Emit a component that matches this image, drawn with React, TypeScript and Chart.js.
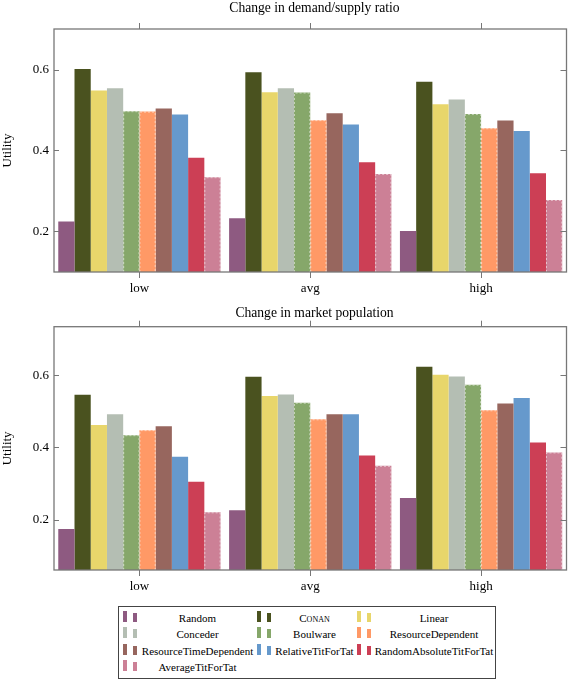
import React, { useEffect, useRef } from 'react';
import { Chart, registerables } from 'chart.js';

Chart.register(...registerables);

// ---------- data ----------
const categories = ['low', 'avg', 'high'];
const seriesNames = [
  'Random', 'Conan', 'Linear', 'Conceder', 'Boulware', 'ResourceDependent',
  'ResourceTimeDependent', 'RelativeTitForTat', 'RandomAbsoluteTitForTat', 'AverageTitForTat',
];
const seriesColors = [
  '#8e5a81', '#4a521f', '#e8d66b', '#b4beb3', '#86a76a', '#ff9966',
  '#97665e', '#6699cc', '#cc3f55', '#cc8096',
];
const dashedSeries = [false, false, false, false, true, true, false, false, false, true];
const yTicks = [0.2, 0.4, 0.6];

const ratioTitle = 'Change in demand/supply ratio';
const ratioRange = [0.1, 0.7];
const ratioRandom = [0.225, 0.233, 0.201];
const ratioConan = [0.601, 0.593, 0.570];
const ratioLinear = [0.548, 0.544, 0.514];
const ratioConceder = [0.554, 0.554, 0.526];
const ratioBoulware = [0.497, 0.543, 0.490];
const ratioResourceDependent = [0.496, 0.475, 0.455];
const ratioResourceTimeDependent = [0.504, 0.492, 0.474];
const ratioRelativeTFT = [0.489, 0.464, 0.448];
const ratioRandomAbsoluteTFT = [0.382, 0.371, 0.344];
const ratioAverageTFT = [0.334, 0.342, 0.278];

const popTitle = 'Change in market population';
const popRange = [0.06, 0.735];
const popRandom = [0.174, 0.226, 0.260];
const popConan = [0.546, 0.596, 0.624];
const popLinear = [0.462, 0.543, 0.602];
const popConceder = [0.492, 0.547, 0.597];
const popBoulware = [0.434, 0.524, 0.574];
const popResourceDependent = [0.448, 0.478, 0.503];
const popResourceTimeDependent = [0.459, 0.492, 0.522];
const popRelativeTFT = [0.374, 0.492, 0.537];
const popRandomAbsoluteTFT = [0.305, 0.378, 0.414];
const popAverageTFT = [0.220, 0.349, 0.386];

const ratioValues = [
  ratioRandom, ratioConan, ratioLinear, ratioConceder, ratioBoulware, ratioResourceDependent,
  ratioResourceTimeDependent, ratioRelativeTFT, ratioRandomAbsoluteTFT, ratioAverageTFT,
];
const popValues = [
  popRandom, popConan, popLinear, popConceder, popBoulware, popResourceDependent,
  popResourceTimeDependent, popRelativeTFT, popRandomAbsoluteTFT, popAverageTFT,
];

const SERIF = '"Liberation Serif", "DejaVu Serif", serif';

// ---------- plugins ----------
const framePlugin = {
  id: 'frame',
  afterDatasetsDraw(chart: any) {
    const { ctx, chartArea, scales } = chart;
    const { left, right, top, bottom } = chartArea;
    ctx.save();
    // dashed outlines
    chart.data.datasets.forEach((_ds: any, i: number) => {
      if (!dashedSeries[i]) return;
      const meta = chart.getDatasetMeta(i);
      ctx.save();
      ctx.beginPath();
      ctx.rect(left, top, right - left, bottom - top);
      ctx.clip();
      ctx.strokeStyle = 'rgba(255,255,255,0.5)';
      ctx.lineWidth = 1;
      ctx.setLineDash([2, 2]);
      meta.data.forEach((bar: any) => {
        const p = bar.getProps(['x', 'y', 'base', 'width'], true);
        const x0 = p.x - p.width / 2 + 0.5;
        const x1 = p.x + p.width / 2 - 0.5;
        ctx.beginPath();
        ctx.moveTo(x0, bottom);
        ctx.lineTo(x0, p.y + 0.5);
        ctx.lineTo(x1, p.y + 0.5);
        ctx.lineTo(x1, bottom);
        ctx.stroke();
      });
      ctx.restore();
    });
    ctx.strokeStyle = '#777777';
    ctx.lineWidth = 1.3;
    ctx.setLineDash([]);
    ctx.strokeRect(left, top, right - left, bottom - top);
    ctx.lineWidth = 1;
    const yScale = scales.y;
    yScale.ticks.forEach((t: any) => {
      const py = Math.round(yScale.getPixelForValue(t.value)) + 0.5;
      ctx.beginPath();
      ctx.moveTo(left, py);
      ctx.lineTo(left + 5, py);
      ctx.moveTo(right - 6, py);
      ctx.lineTo(right, py);
      ctx.stroke();
    });
    const xScale = scales.x;
    xScale.ticks.forEach((_t: any, i: number) => {
      const px = Math.round(xScale.getPixelForTick(i)) + 0.5;
      ctx.beginPath();
      ctx.moveTo(px, top - 6);
      ctx.lineTo(px, top);
      ctx.moveTo(px, bottom);
      ctx.lineTo(px, bottom + 6);
      ctx.stroke();
    });
    ctx.restore();
  },
};

type PanelProps = {
  title: string;
  values: number[][];
  range: number[];
  top: number;
  height: number;
  plotTop: number;
  titleTop: number;
};

function BarPanel({ title, values, range, top, height, plotTop, titleTop }: PanelProps) {
  const ref = useRef<HTMLCanvasElement | null>(null);
  useEffect(() => {
    if (!ref.current) return;
    const chart = new Chart(ref.current, {
      type: 'bar',
      data: {
        labels: categories,
        datasets: seriesNames.map((name, i) => ({
          label: name,
          data: values[i],
          backgroundColor: seriesColors[i],
          borderWidth: 0,
          categoryPercentage: 0.95,
          barPercentage: 1.0,
        })),
      },
      options: {
        animation: false,
        responsive: false,
        devicePixelRatio: 1,
        layout: { padding: { left: 0, right: 1.5, top: plotTop, bottom: 0 } },
        plugins: {
          legend: { display: false },
          tooltip: { enabled: false },
          title: { display: false },
        },
        scales: {
          x: {
            type: 'category',
            grid: { display: false, drawTicks: false },
            border: { display: false },
            ticks: { color: '#000', font: { family: SERIF, size: 13 }, padding: 9 },
            afterFit: (s: any) => { s.height = 28; },
          },
          y: {
            type: 'linear',
            min: range[0],
            max: range[1],
            grid: { display: false, drawTicks: false },
            border: { display: false },
            ticks: {
              color: '#000',
              font: { family: SERIF, size: 13 },
              padding: 5,
              callback: (v: any) => Number(v).toFixed(1),
            },
            afterBuildTicks: (s: any) => { s.ticks = yTicks.map((v) => ({ value: v })); },
            title: {
              display: true,
              text: 'Utility',
              color: '#000',
              font: { family: SERIF, size: 13 },
              padding: { top: 0, bottom: 0 },
            },
            afterFit: (s: any) => { s.width = 54; },
          },
        },
      },
      plugins: [framePlugin],
    } as any);
    return () => chart.destroy();
  }, [values, range, plotTop]);
  return (
    <>
      <canvas
        ref={ref}
        width={568}
        height={height}
        style={{ position: 'absolute', left: 0, top, width: 568, height }}
      />
      <div style={{
        position: 'absolute', left: 214.5, width: 200, top: titleTop, height: 16, lineHeight: '16px',
        textAlign: 'center', whiteSpace: 'nowrap', fontFamily: SERIF, fontSize: 13.6, color: '#000',
      }}>{title}</div>
    </>
  );
}

// ---------- legend ----------
const legendCols = [
  { iconX: 122.7, textL: 139, textR: 256 },
  { iconX: 256.7, textL: 274, textR: 355 },
  { iconX: 356.7, textL: 374, textR: 494 },
];

function Legend() {
  const boxLeft = 117.5;
  const boxTop = 605.5;
  return (
    <div
      style={{
        position: 'absolute', left: boxLeft, top: boxTop, width: 376, height: 71,
        border: '1px solid #444', background: '#fff',
      }}
    >
      {seriesNames.map((name, i) => {
        const col = legendCols[i % 3];
        const row = Math.floor(i / 3);
        const cy = 618.3 + row * 16.1 - boxTop - 1;
        const isConan = name === 'Conan';
        return (
          <React.Fragment key={name}>
            <div style={{
              position: 'absolute', left: col.iconX - boxLeft - 1, top: cy - 7, width: 4, height: 11,
              background: seriesColors[i],
            }} />
            <div style={{
              position: 'absolute', left: col.iconX - boxLeft + 9, top: cy - 5, width: 4.5, height: 9,
              background: seriesColors[i],
            }} />
            <div style={{
              position: 'absolute', left: col.textL - boxLeft - 1, top: cy - 8, width: col.textR - col.textL,
              height: 16, lineHeight: '16px', textAlign: 'center', whiteSpace: 'nowrap',
              fontFamily: SERIF, fontSize: 11, color: '#000',
              fontVariant: isConan ? 'small-caps' : 'normal',
            }}>{name}</div>
          </React.Fragment>
        );
      })}
    </div>
  );
}

export default function App() {
  return (
    <div style={{ position: 'absolute', left: 0, top: 0, width: 568, height: 679, background: '#fff' }}>
      <BarPanel title={ratioTitle} values={ratioValues} range={ratioRange} top={0} height={300}
        plotTop={29} titleTop={-0.3} />
      <BarPanel title={popTitle} values={popValues} range={popRange} top={300} height={298}
        plotTop={26.7} titleTop={304.7} />
      <Legend />
    </div>
  );
}
